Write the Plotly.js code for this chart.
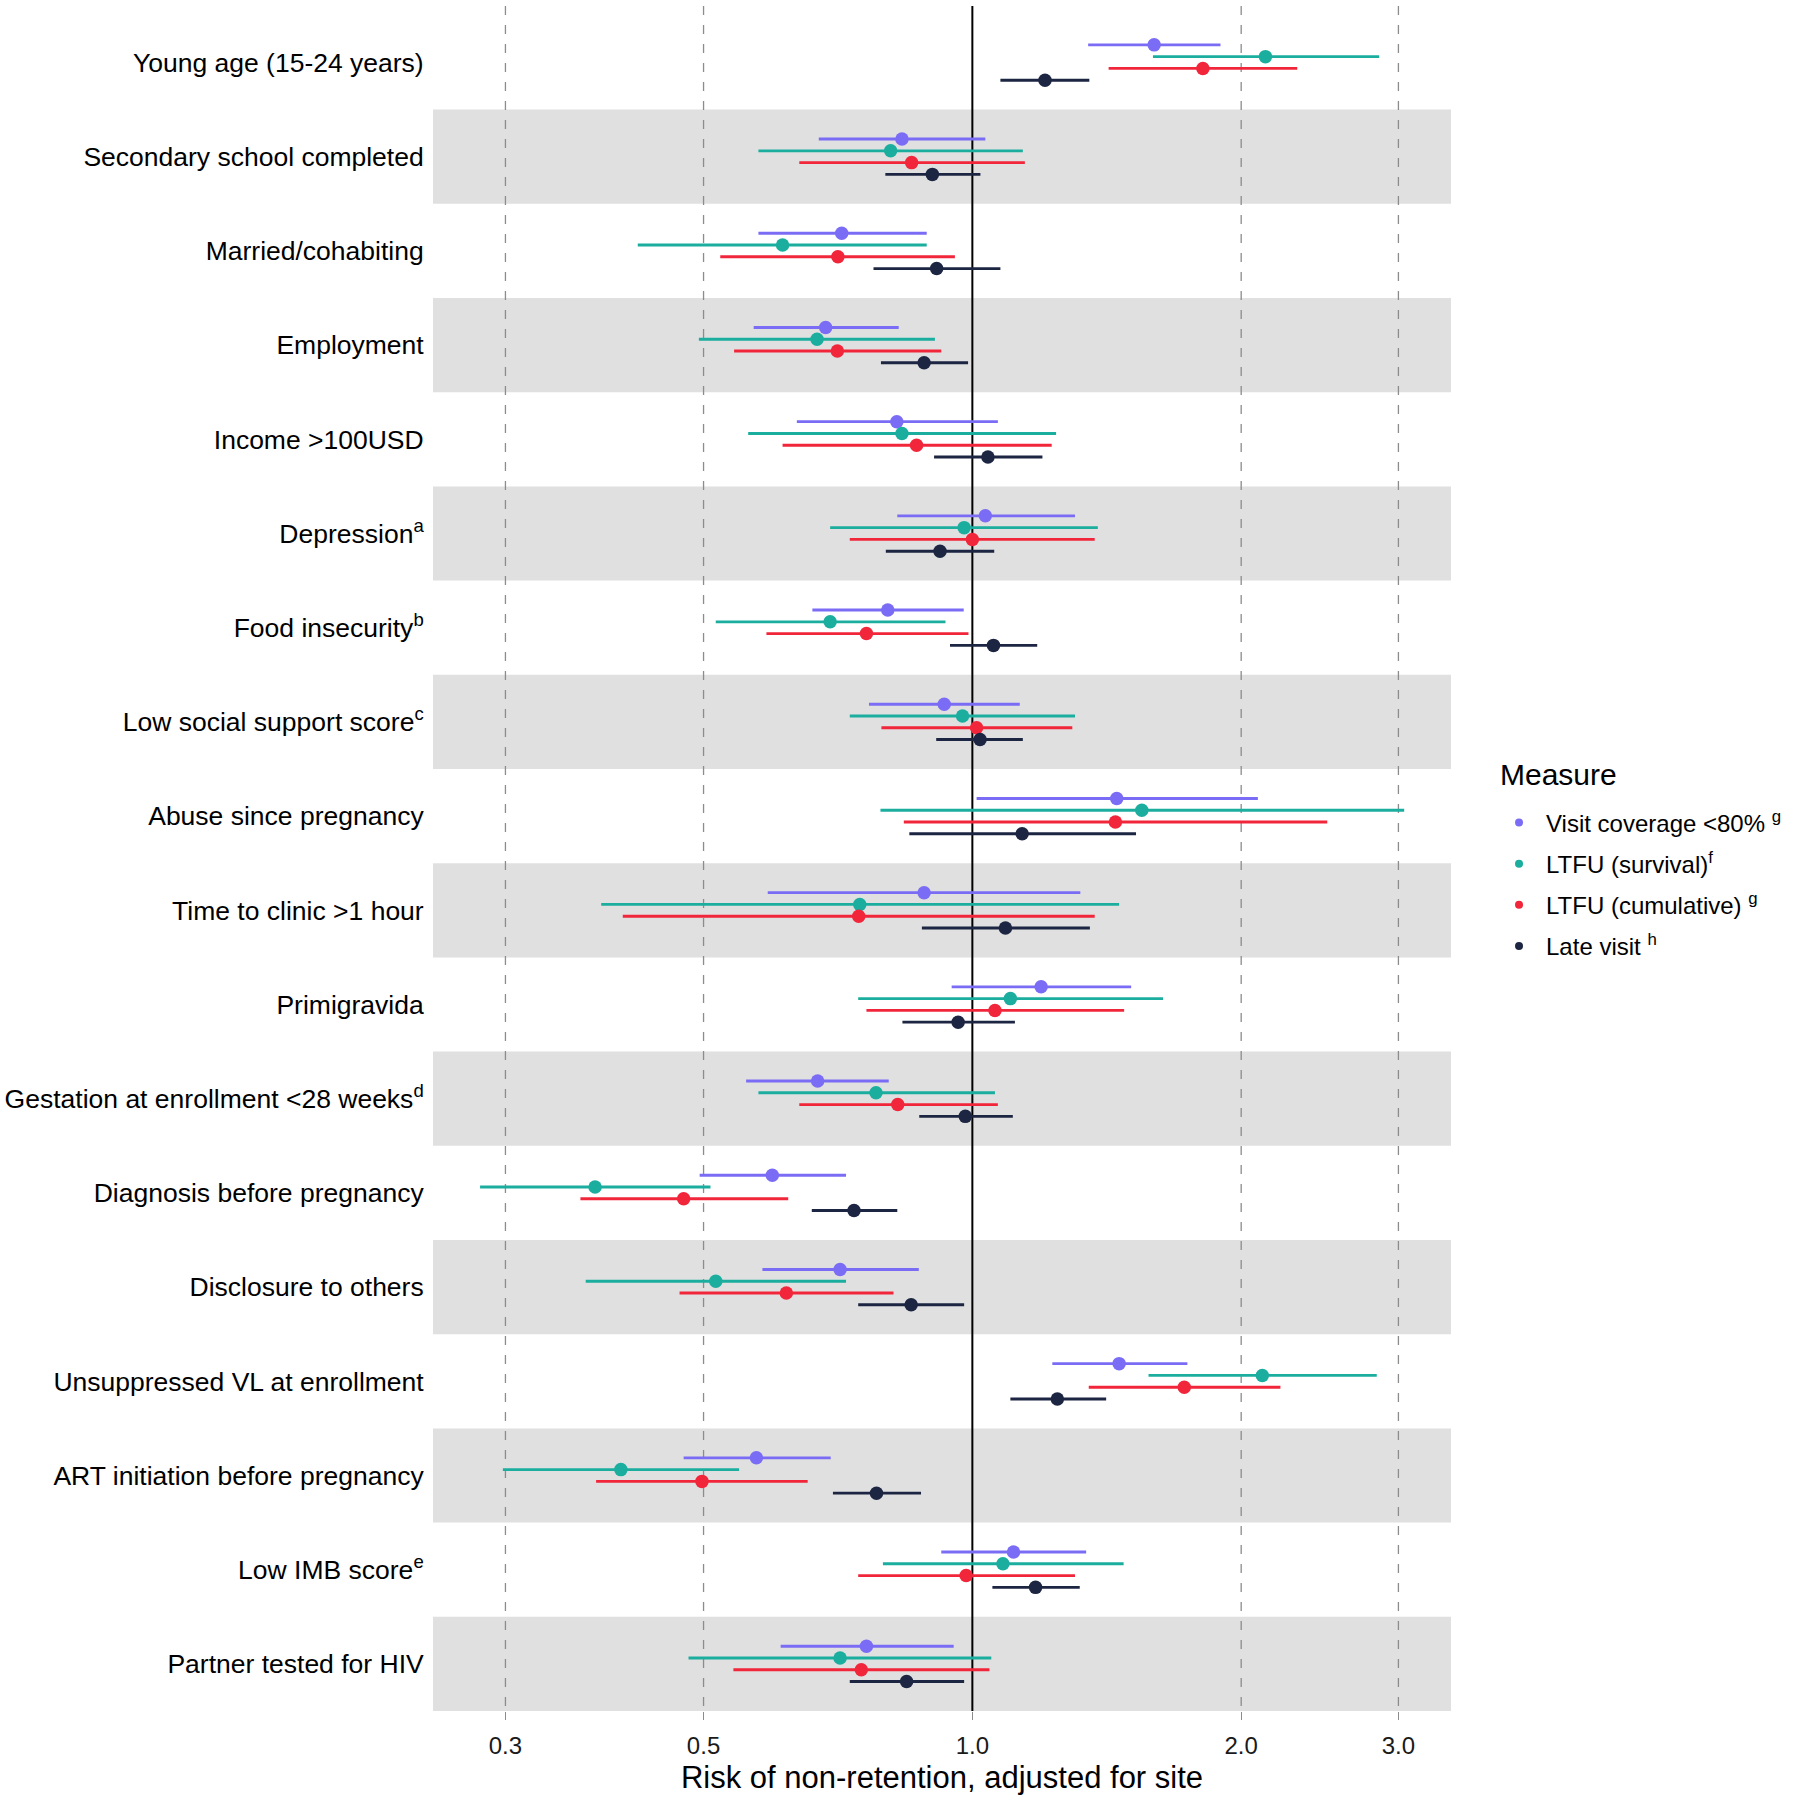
<!DOCTYPE html>
<html>
<head>
<meta charset="utf-8">
<script src="https://cdn.plot.ly/plotly-3.0.1.min.js"></script>
<style>
  html, body { margin: 0; padding: 0; background: #ffffff; }
  #chart { width: 1799px; height: 1800px; }
</style>
</head>
<body>
<div id="chart"></div>
<script>
// ---------------- data ----------------
const categories = [
  "Young age (15-24 years)",
  "Secondary school completed",
  "Married/cohabiting",
  "Employment",
  "Income >100USD",
  "Depression<sup>a</sup>",
  "Food insecurity<sup>b</sup>",
  "Low social support score<sup>c</sup>",
  "Abuse since pregnancy",
  "Time to clinic >1 hour",
  "Primigravida",
  "Gestation at enrollment <28 weeks<sup>d</sup>",
  "Diagnosis before pregnancy",
  "Disclosure to others",
  "Unsuppressed VL at enrollment",
  "ART initiation before pregnancy",
  "Low IMB score<sup>e</sup>",
  "Partner tested for HIV"
];

const seriesNames = [
  "Visit coverage &lt;80% <sup>g</sup>",
  "LTFU (survival)<sup>f</sup>",
  "LTFU (cumulative) <sup>g</sup>",
  "Late visit <sup>h</sup>"
];
const legendTitle = "Measure";
const xTitle = "Risk of non-retention, adjusted for site";

const xTickValues = [0.3, 0.5, 1.0, 2.0, 3.0];
const xTickLabels = ["0.3", "0.5", "1.0", "2.0", "3.0"];
const referenceValue = 1.0;

// Visit coverage <80%
const visitEst = [1.598, 0.834, 0.714, 0.685, 0.823, 1.034, 0.804, 0.930, 1.451, 0.883, 1.194, 0.671, 0.597, 0.711, 1.460, 0.573, 1.112, 0.761];
const visitLo  = [1.348, 0.673, 0.576, 0.569, 0.636, 0.824, 0.662, 0.766, 1.011, 0.590, 0.948, 0.558, 0.495, 0.582, 1.229, 0.475, 0.923, 0.610];
const visitHi  = [1.896, 1.034, 0.889, 0.827, 1.068, 1.303, 0.978, 1.130, 2.088, 1.321, 1.506, 0.806, 0.722, 0.871, 1.741, 0.694, 1.341, 0.953];

// LTFU (survival)
const survEst = [2.129, 0.810, 0.613, 0.670, 0.834, 0.979, 0.693, 0.975, 1.548, 0.748, 1.103, 0.780, 0.378, 0.516, 2.112, 0.404, 1.082, 0.711];
const survLo  = [1.593, 0.576, 0.422, 0.494, 0.561, 0.693, 0.516, 0.729, 0.789, 0.384, 0.745, 0.576, 0.281, 0.369, 1.575, 0.298, 0.794, 0.481];
const survHi  = [2.855, 1.139, 0.889, 0.908, 1.241, 1.382, 0.933, 1.303, 3.045, 1.460, 1.635, 1.060, 0.509, 0.722, 2.837, 0.548, 1.477, 1.050];

// LTFU (cumulative)
const cumEst = [1.812, 0.855, 0.707, 0.706, 0.866, 1.000, 0.761, 1.011, 1.446, 0.746, 1.060, 0.825, 0.475, 0.619, 1.727, 0.498, 0.984, 0.751];
const cumLo  = [1.421, 0.640, 0.522, 0.541, 0.613, 0.729, 0.588, 0.791, 0.838, 0.406, 0.761, 0.640, 0.364, 0.470, 1.350, 0.379, 0.745, 0.540];
const cumHi  = [2.311, 1.145, 0.956, 0.923, 1.227, 1.371, 0.990, 1.294, 2.497, 1.371, 1.479, 1.068, 0.622, 0.816, 2.213, 0.654, 1.303, 1.045];

// Late visit
const lateEst = [1.206, 0.902, 0.912, 0.883, 1.041, 0.920, 1.056, 1.020, 1.137, 1.089, 0.964, 0.982, 0.737, 0.854, 1.245, 0.781, 1.177, 0.844];
const lateLo  = [1.075, 0.799, 0.775, 0.790, 0.906, 0.800, 0.944, 0.911, 0.850, 0.878, 0.835, 0.872, 0.661, 0.745, 1.103, 0.698, 1.053, 0.729];
const lateHi  = [1.352, 1.021, 1.075, 0.989, 1.198, 1.058, 1.182, 1.139, 1.525, 1.354, 1.116, 1.110, 0.824, 0.979, 1.412, 0.876, 1.319, 0.979];

// ---------------- style ----------------
const colors = ["#7A6CF4", "#1BAE9F", "#F2263A", "#1C2541"];
const FONT = "Liberation Sans, Arial, Helvetica, sans-serif";

const allSeries = [
  {est: visitEst, lo: visitLo, hi: visitHi},
  {est: survEst,  lo: survLo,  hi: survHi},
  {est: cumEst,   lo: cumLo,   hi: cumHi},
  {est: lateEst,  lo: lateLo,  hi: lateHi}
];

const rowIdx = categories.map((_, i) => i);
const dodgeWidth = 0.5;
const nSeries = allSeries.length;
const yRange = [categories.length - 0.5, -0.6];

const traces = allSeries.map((s, k) => {
  const off = (k - (nSeries - 1) / 2) * dodgeWidth / nSeries;
  return {
    type: "scatter",
    mode: "markers",
    name: seriesNames[k],
    legendgroup: "g" + k,
    showlegend: false,
    x: s.est,
    y: rowIdx.map(i => i + off),
    marker: {color: colors[k], size: 13.5},
    error_x: {
      type: "data",
      symmetric: false,
      array: s.est.map((v, i) => s.hi[i] - v),
      arrayminus: s.est.map((v, i) => v - s.lo[i]),
      color: colors[k],
      thickness: 2.9,
      width: 0
    },
    hovertemplate: "%{x}<extra></extra>"
  };
});
// legend entries (smaller key dots, as in the reference legend)
allSeries.forEach((s, k) => {
  traces.push({
    type: "scatter",
    mode: "markers",
    name: seriesNames[k],
    legendgroup: "g" + k,
    showlegend: true,
    x: [null], y: [null],
    marker: {color: colors[k], size: 8},
    hoverinfo: "skip"
  });
});

const shapes = [];
// alternating grey bands
rowIdx.forEach(i => {
  if (i % 2 === 1) {
    shapes.push({
      type: "rect", xref: "paper", yref: "y",
      x0: 0, x1: 1, y0: i - 0.5, y1: i + 0.5,
      fillcolor: "#E0E0E0", line: {width: 0}, layer: "below"
    });
  }
});
// dashed vertical guides at the tick values, solid black at 1.0
// (Plotly v3: shape coordinates on a log axis are given in data units)
xTickValues.forEach(v => {
  const isRef = (v === referenceValue);
  shapes.push({
    type: "line", xref: "x", yref: "y",
    x0: v, x1: v, y0: yRange[1], y1: yRange[0],
    line: isRef ? {color: "#000000", width: 2} : {color: "#8C8C8C", width: 1.3, dash: "9px,10px"},
    layer: "below"
  });
});

const layout = {
  width: 1799,
  height: 1800,
  margin: {l: 433, r: 348, t: 6, b: 89},
  paper_bgcolor: "#ffffff",
  plot_bgcolor: "#ffffff",
  font: {family: FONT, color: "#000000"},
  showlegend: true,
  xaxis: {
    type: "log",
    range: [-0.604, 0.536],
    tickvals: xTickValues,
    ticktext: xTickLabels,
    showgrid: false,
    zeroline: false,
    showline: false,
    ticks: "outside",
    ticklen: 8,
    tickwidth: 1.3,
    tickcolor: "#8C8C8C",
    ticklabelstandoff: 5,
    tickfont: {family: FONT, size: 24, color: "#1a1a1a"},
    title: {text: xTitle, font: {family: FONT, size: 31, color: "#000000"}, standoff: 8},
    automargin: false,
    fixedrange: true
  },
  yaxis: {
    range: yRange,
    tickvals: rowIdx,
    ticktext: categories,
    showgrid: false,
    zeroline: false,
    showline: false,
    ticks: "outside",
    ticklen: 3,
    tickcolor: "rgba(0,0,0,0)",
    tickfont: {family: FONT, size: 26.5, color: "#000000"},
    automargin: false,
    fixedrange: true
  },
  shapes: shapes,
  annotations: [{
    text: legendTitle,
    xref: "paper", yref: "paper",
    x: 1.0462, xanchor: "left",
    y: 0.549, yanchor: "middle",
    showarrow: false,
    font: {family: FONT, size: 30, color: "#000000"}
  }],
  legend: {
    x: 1.0403, xanchor: "left",
    y: 0.5341, yanchor: "top",
    font: {family: FONT, size: 24, color: "#000000"},
    itemwidth: 44,
    tracegroupgap: 7,
    bgcolor: "rgba(0,0,0,0)",
    borderwidth: 0
  }
};

Plotly.newPlot("chart", traces, layout, {displayModeBar: false, staticPlot: true});
</script>
</body>
</html>
